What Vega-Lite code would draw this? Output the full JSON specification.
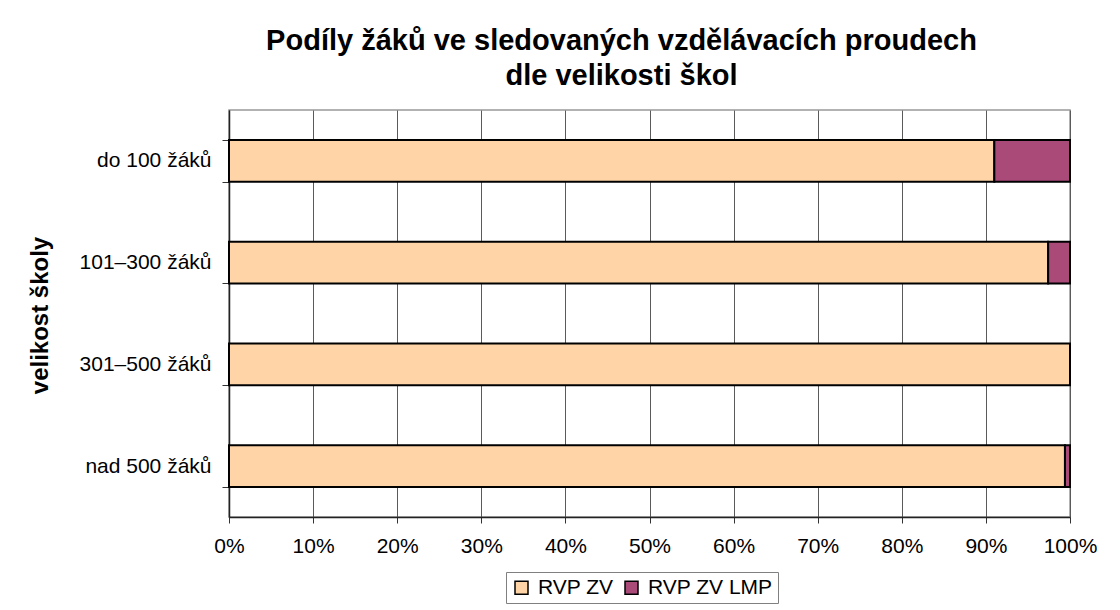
{
  "$schema": "https://vega.github.io/schema/vega-lite/v6.json",
  "autosize": "none",
  "width": 841,
  "height": 407,
  "padding": {"left": 229, "top": 110, "right": 50, "bottom": 93},
  "background": "white",
  "title": {
    "text": ["Podíly žáků ve sledovaných vzdělávacích proudech", "dle velikosti škol"],
    "font": "Liberation Sans",
    "fontSize": 29,
    "fontWeight": "bold",
    "color": "#000000",
    "anchor": "middle",
    "frame": "group",
    "dx": -28,
    "offset": 8,
    "lineHeight": 35
  },
  "data": {
    "values": [
      {"velikost": "do 100 žáků", "proud": "RVP ZV", "podil": 0.91, "poradi": 1},
      {"velikost": "do 100 žáků", "proud": "RVP ZV LMP", "podil": 0.09, "poradi": 2},
      {"velikost": "101–300 žáků", "proud": "RVP ZV", "podil": 0.974, "poradi": 1},
      {"velikost": "101–300 žáků", "proud": "RVP ZV LMP", "podil": 0.026, "poradi": 2},
      {"velikost": "301–500 žáků", "proud": "RVP ZV", "podil": 1.0, "poradi": 1},
      {"velikost": "301–500 žáků", "proud": "RVP ZV LMP", "podil": 0.0, "poradi": 2},
      {"velikost": "nad 500 žáků", "proud": "RVP ZV", "podil": 0.994, "poradi": 1},
      {"velikost": "nad 500 žáků", "proud": "RVP ZV LMP", "podil": 0.006, "poradi": 2}
    ]
  },
  "mark": {"type": "bar", "stroke": "#000000", "strokeWidth": 2},
  "encoding": {
    "y": {
      "field": "velikost",
      "type": "nominal",
      "sort": ["do 100 žáků", "101–300 žáků", "301–500 žáků", "nad 500 žáků"],
      "scale": {"paddingInner": 0.59, "paddingOuter": 0.295},
      "axis": {
        "title": "velikost školy",
        "titleFont": "Liberation Sans",
        "titleFontSize": 24,
        "titleFontWeight": "bold",
        "titleColor": "#000000",
        "titleAngle": -90,
        "titleBaseline": "middle",
        "titleAlign": "center",
        "titleX": -189,
        "titleY": 205,
        "labelFont": "Liberation Sans",
        "labelFontSize": 21,
        "labelColor": "#000000",
        "labelPadding": 11,
        "tickBand": "extent",
        "tickSize": 7,
        "tickColor": "#333333",
        "domainColor": "#222222",
        "domainWidth": 1.5,
        "grid": false
      }
    },
    "x": {
      "field": "podil",
      "type": "quantitative",
      "stack": "zero",
      "scale": {"domain": [0, 1], "nice": false},
      "axis": {
        "title": null,
        "format": ".0%",
        "values": [0, 0.1, 0.2, 0.3, 0.4, 0.5, 0.6, 0.7, 0.8, 0.9, 1.0],
        "labelFont": "Liberation Sans",
        "labelFontSize": 21,
        "labelColor": "#000000",
        "labelPadding": 12,
        "labelFlush": false,
        "tickSize": 6,
        "tickColor": "#333333",
        "domainColor": "#222222",
        "domainWidth": 1.5,
        "grid": true,
        "gridColor": "#5a5a5a",
        "gridWidth": 1
      }
    },
    "color": {
      "field": "proud",
      "type": "nominal",
      "scale": {"domain": ["RVP ZV", "RVP ZV LMP"], "range": ["#FFD5A8", "#A94A78"]},
      "legend": {
        "title": null,
        "orient": "none",
        "legendX": 277,
        "legendY": 462,
        "direction": "horizontal",
        "padding": 5,
        "strokeColor": "#808080",
        "fillColor": "white",
        "symbolType": "square",
        "symbolSize": 169,
        "symbolStrokeColor": "#000000",
        "symbolStrokeWidth": 1.5,
        "labelFont": "Liberation Sans",
        "labelFontSize": 21,
        "labelColor": "#000000",
        "labelOffset": 6,
        "columnPadding": 7
      }
    },
    "order": {"field": "poradi", "type": "quantitative"}
  },
  "config": {
    "view": {"stroke": "#999999", "strokeWidth": 1.5}
  }
}
